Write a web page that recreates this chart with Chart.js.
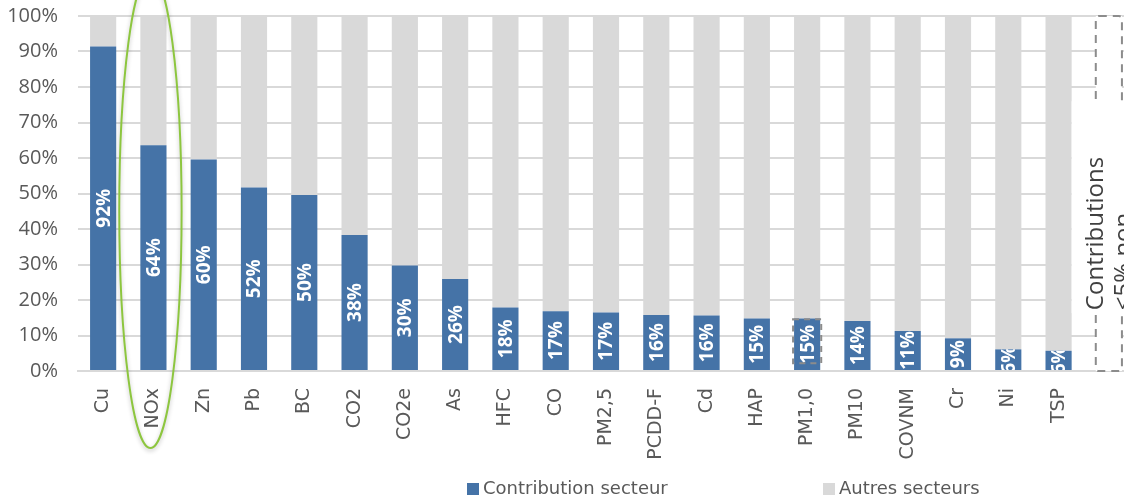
<!DOCTYPE html>
<html>
<head>
<meta charset="utf-8">
<script src="https://cdn.jsdelivr.net/npm/chart.js@4/dist/chart.umd.min.js"></script>
<style>
  body { margin: 0; background: #fff; overflow: hidden; }
  #wrap { width: 1140px; height: 501px; }
</style>
</head>
<body>
<div id="wrap"><canvas id="chart" width="1140" height="501"></canvas></div>
<script>
// polluants, du plus au moins contributeur (dernière colonne = bloc "<5%")
const categories = ['Cu', 'NOx', 'Zn', 'Pb', 'BC', 'CO2', 'CO2e', 'As', 'HFC', 'CO',
  'PM2,5', 'PCDD-F', 'Cd', 'HAP', 'PM1,0', 'PM10', 'COVNM', 'Cr', 'Ni', 'TSP', ''];
const contributionSecteur = [91.4, 63.6, 59.6, 51.7, 49.6, 38.3, 29.7, 25.9, 17.9, 16.8,
  16.5, 15.8, 15.6, 14.8, 14.8, 14.1, 11.3, 9.2, 6.1, 5.7, null];
const valueLabels = ['92%', '64%', '60%', '52%', '50%', '38%', '30%', '26%', '18%', '17%',
  '17%', '16%', '16%', '15%', '15%', '14%', '11%', '9%', '6%', '6%', ''];
const autresSecteurs = contributionSecteur.map(v => v == null ? null : 100 - v);
const yTicks = [0, 10, 20, 30, 40, 50, 60, 70, 80, 90, 100];

const BLUE = '#4573a7';
const GREY = '#d9d9d9';

// annotations (en unités du graphique)
const ellipseNOx = { index: 1, top: 112, bottom: -21.7, halfWidth: 0.62 };
const boxPM10 = { index: 14, top: 14.6, bottom: 2.2 };
const boxSmall = { index: 20, textTop: 76, textBottom: 16.3 };
const boxText = ['Contributions', '<5% non'];

// pas de marge auto autour des axes : la zone de tracé est fixée par layout.padding
function noPadding(scale) {
  scale.paddingTop = 0;
  scale.paddingBottom = 0;
  scale.paddingLeft = 0;
  scale.paddingRight = 0;
}

const overlays = {
  id: 'overlays',
  afterDatasetsDraw(chart) {
    const ctx = chart.ctx;
    const x = chart.scales.x, y = chart.scales.y;

    // étiquettes de valeurs dans les barres bleues
    const meta = chart.getDatasetMeta(0);
    meta.data.forEach((bar, i) => {
      if (!valueLabels[i]) return;
      const p = bar.getProps(['x', 'y', 'base', 'width'], true);
      ctx.save();
      ctx.beginPath();
      ctx.rect(p.x - p.width / 2, p.y, p.width, p.base - p.y);
      ctx.clip();
      ctx.translate(p.x, (p.y + p.base) / 2);
      ctx.rotate(-Math.PI / 2);
      ctx.fillStyle = '#ffffff';
      ctx.font = 'bold 19px "Open Sans"';
      ctx.textAlign = 'center';
      ctx.textBaseline = 'middle';
      ctx.fillText(valueLabels[i], 0, 1);
      ctx.restore();
    });

    // cadre pointillé autour de PM1,0
    const pmBar = meta.data[boxPM10.index];
    const bw = pmBar.width;
    ctx.save();
    ctx.strokeStyle = '#8c8c8c';
    ctx.lineWidth = 2;
    ctx.setLineDash([6, 5]);
    const py1 = y.getPixelForValue(boxPM10.top), py2 = y.getPixelForValue(boxPM10.bottom);
    ctx.strokeRect(pmBar.x - bw / 2 - 1, py1, bw + 2, py2 - py1);
    ctx.restore();

    // bloc "<5%" à droite
    const cx = x.getPixelForValue(boxSmall.index);
    const top = y.getPixelForValue(100), bot = y.getPixelForValue(0);
    ctx.save();
    ctx.fillStyle = '#ffffff';
    ctx.fillRect(cx - bw / 2, top, bw, bot - top);
    ctx.strokeStyle = '#8c8c8c';
    ctx.lineWidth = 2;
    ctx.setLineDash([8, 6]);
    ctx.beginPath();
    ctx.roundRect(cx - bw / 2, top, bw, bot - top, 3);
    ctx.stroke();
    ctx.restore();

    // zone de texte blanche
    const prevX = x.getPixelForValue(boxSmall.index - 1) + bw / 2;
    const ty1 = y.getPixelForValue(boxSmall.textTop), ty2 = y.getPixelForValue(boxSmall.textBottom);
    ctx.save();
    ctx.fillStyle = '#ffffff';
    ctx.fillRect(prevX, ty1, chart.width - prevX, ty2 - ty1);
    ctx.translate(prevX, ty2 - 3);
    ctx.rotate(-Math.PI / 2);
    ctx.fillStyle = '#404040';
    ctx.font = '24px "Open Sans"';
    ctx.textAlign = 'left';
    ctx.textBaseline = 'middle';
    ctx.fillText(boxText[0], 0, 25);
    ctx.fillText(boxText[1], 0, 53);
    ctx.restore();
  },
  afterDraw(chart) {
    const ctx = chart.ctx;
    const x = chart.scales.x, y = chart.scales.y;
    const step = x.getPixelForValue(1) - x.getPixelForValue(0);

    // ellipse verte autour de NOx
    const ex = x.getPixelForValue(ellipseNOx.index) - 3;
    const t = y.getPixelForValue(ellipseNOx.top), b = y.getPixelForValue(ellipseNOx.bottom);
    ctx.save();
    ctx.strokeStyle = '#8dc63f';
    ctx.lineWidth = 2;
    ctx.shadowColor = 'rgba(0,0,0,0.25)';
    ctx.shadowBlur = 4;
    ctx.shadowOffsetY = 2;
    ctx.beginPath();
    ctx.ellipse(ex, (t + b) / 2, step * ellipseNOx.halfWidth, (b - t) / 2, 0, 0, Math.PI * 2);
    ctx.stroke();
    ctx.restore();

    // légende
    const items = chart.data.datasets.map(ds => ({ text: ds.label, color: ds.backgroundColor }));
    const starts = [467, 823];
    ctx.save();
    ctx.font = '18px "DejaVu Sans"';
    ctx.textBaseline = 'middle';
    items.forEach((it, i) => {
      ctx.fillStyle = it.color;
      ctx.fillRect(starts[i], 483, 12, 12);
      ctx.fillStyle = '#595959';
      ctx.fillText(it.text, starts[i] + 16, 489);
    });
    ctx.restore();
  }
};

new Chart(document.getElementById('chart'), {
  type: 'bar',
  data: {
    labels: categories,
    datasets: [
      { label: 'Contribution secteur', data: contributionSecteur, backgroundColor: BLUE,
        barPercentage: 0.52, categoryPercentage: 1 },
      { label: 'Autres secteurs', data: autresSecteurs, backgroundColor: GREY,
        barPercentage: 0.52, categoryPercentage: 1 }
    ]
  },
  options: {
    responsive: false,
    animation: false,
    layout: { padding: { left: 0, top: 16, right: 6, bottom: 0 } },
    plugins: { legend: { display: false }, tooltip: { enabled: false } },
    scales: {
      x: {
        stacked: true,
        grid: { display: false },
        border: { color: GREY, width: 2 },
        ticks: {
          autoSkip: false, maxRotation: 90, minRotation: 90, padding: 9,
          color: '#595959', font: { family: 'DejaVu Sans', size: 19 }
        },
        afterFit(scale) { scale.height = 130; noPadding(scale); }
      },
      y: {
        stacked: true,
        min: 0, max: 100,
        afterBuildTicks(scale) { scale.ticks = yTicks.map(v => ({ value: v })); },
        grid: { color: GREY, lineWidth: 2, drawTicks: false },
        border: { display: false },
        ticks: {
          padding: 20, color: '#595959',
          font: { family: 'Open Sans', size: 20 },
          callback: v => v + '%'
        },
        afterFit(scale) { scale.width = 78; noPadding(scale); }
      }
    }
  },
  plugins: [overlays]
});
</script>
</body>
</html>
